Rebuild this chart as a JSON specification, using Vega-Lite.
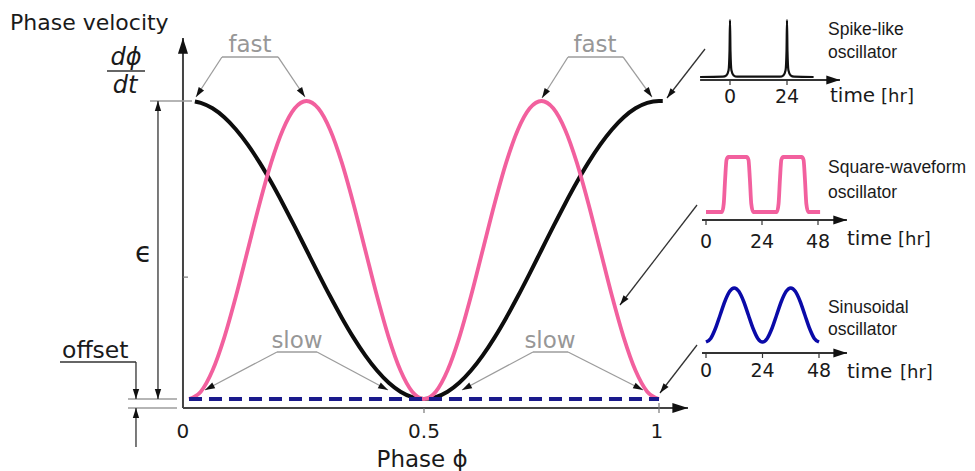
{
  "$schema": "https://vega.github.io/schema/vega-lite/v6.json",
  "width": 975,
  "height": 471,
  "padding": 0,
  "autosize": {"type": "none"},
  "background": "white",
  "config": {"view": {"stroke": null}},
  "datasets": {
    "black": [
      {"x": 0.0125, "y": 0.9985}, {"x": 0.025, "y": 0.9938}, {"x": 0.05, "y": 0.9755}, {"x": 0.075, "y": 0.9455},
      {"x": 0.1, "y": 0.9045}, {"x": 0.125, "y": 0.8536}, {"x": 0.15, "y": 0.7939}, {"x": 0.175, "y": 0.727},
      {"x": 0.2, "y": 0.6545}, {"x": 0.225, "y": 0.5782}, {"x": 0.25, "y": 0.5}, {"x": 0.275, "y": 0.4218},
      {"x": 0.3, "y": 0.3455}, {"x": 0.325, "y": 0.273}, {"x": 0.35, "y": 0.2061}, {"x": 0.375, "y": 0.1464},
      {"x": 0.4, "y": 0.0955}, {"x": 0.425, "y": 0.0545}, {"x": 0.45, "y": 0.0245}, {"x": 0.475, "y": 0.0062},
      {"x": 0.5, "y": 0}, {"x": 0.525, "y": 0.0062}, {"x": 0.55, "y": 0.0245}, {"x": 0.575, "y": 0.0545},
      {"x": 0.6, "y": 0.0955}, {"x": 0.625, "y": 0.1464}, {"x": 0.65, "y": 0.2061}, {"x": 0.675, "y": 0.273},
      {"x": 0.7, "y": 0.3455}, {"x": 0.725, "y": 0.4218}, {"x": 0.75, "y": 0.5}, {"x": 0.775, "y": 0.5782},
      {"x": 0.8, "y": 0.6545}, {"x": 0.825, "y": 0.727}, {"x": 0.85, "y": 0.7939}, {"x": 0.875, "y": 0.8536},
      {"x": 0.9, "y": 0.9045}, {"x": 0.925, "y": 0.9455}, {"x": 0.95, "y": 0.9755}, {"x": 0.975, "y": 0.9938},
      {"x": 1.0, "y": 1.0}, {"x": 1.008, "y": 1.0}
    ],
    "pink": [
      {"x": 0, "y": 0}, {"x": 0.025, "y": 0.0245}, {"x": 0.05, "y": 0.0955}, {"x": 0.075, "y": 0.2061},
      {"x": 0.1, "y": 0.3455}, {"x": 0.125, "y": 0.5}, {"x": 0.15, "y": 0.6545}, {"x": 0.175, "y": 0.7939},
      {"x": 0.2, "y": 0.9045}, {"x": 0.225, "y": 0.9755}, {"x": 0.25, "y": 1}, {"x": 0.275, "y": 0.9755},
      {"x": 0.3, "y": 0.9045}, {"x": 0.325, "y": 0.7939}, {"x": 0.35, "y": 0.6545}, {"x": 0.375, "y": 0.5},
      {"x": 0.4, "y": 0.3455}, {"x": 0.425, "y": 0.2061}, {"x": 0.45, "y": 0.0955}, {"x": 0.475, "y": 0.0245},
      {"x": 0.5, "y": 0}, {"x": 0.525, "y": 0.0245}, {"x": 0.55, "y": 0.0955}, {"x": 0.575, "y": 0.2061},
      {"x": 0.6, "y": 0.3455}, {"x": 0.625, "y": 0.5}, {"x": 0.65, "y": 0.6545}, {"x": 0.675, "y": 0.7939},
      {"x": 0.7, "y": 0.9045}, {"x": 0.725, "y": 0.9755}, {"x": 0.75, "y": 1}, {"x": 0.775, "y": 0.9755},
      {"x": 0.8, "y": 0.9045}, {"x": 0.825, "y": 0.7939}, {"x": 0.85, "y": 0.6545}, {"x": 0.875, "y": 0.5},
      {"x": 0.9, "y": 0.3455}, {"x": 0.925, "y": 0.2061}, {"x": 0.95, "y": 0.0955}, {"x": 0.975, "y": 0.0245},
      {"x": 1.0, "y": 0}
    ],
    "baseline": [{"x": 0, "y": 0}, {"x": 1, "y": 0}],
    "axes": [
      {"x": -0.0128, "y": -0.0302, "x2": -0.0128, "y2": 1.2114},
      {"x": -0.0128, "y": -0.0302, "x2": 1.0617, "y2": -0.0302}
    ],
    "ticks": [
      {"x": 0.5, "y": -0.0302, "x2": 0.5, "y2": -0.047},
      {"x": 1, "y": -0.0134, "x2": 1, "y2": -0.047},
      {"x": -0.0128, "y": 0.409, "x2": -0.0021, "y2": 0.409}
    ],
    "tickLabels": [
      {"x": -0.0128, "y": -0.1309, "text": "0"},
      {"x": 0.5, "y": -0.1309, "text": "0.5"},
      {"x": 0.9957, "y": -0.1309, "text": "1"}
    ],
    "grayLines": [
      {"x": 0.0702, "y": 1.1477, "x2": 0.1894, "y2": 1.1477},
      {"x": 0.8064, "y": 1.1477, "x2": 0.9234, "y2": 1.1477},
      {"x": 0.1872, "y": 0.1577, "x2": 0.2723, "y2": 0.1577},
      {"x": 0.7319, "y": 0.1577, "x2": 0.8064, "y2": 0.1577},
      {"x": -0.083, "y": 1.0, "x2": 0.0064, "y2": 1.0},
      {"x": -0.1298, "y": 0, "x2": -0.0255, "y2": 0},
      {"x": -0.1298, "y": -0.0302, "x2": -0.0255, "y2": -0.0302}
    ],
    "grayArrows": [
      {"x": 0.0702, "y": 1.1477, "x2": 0.0149, "y2": 1.0134},
      {"x": 0.1894, "y": 1.1477, "x2": 0.2468, "y2": 1.0134},
      {"x": 0.8064, "y": 1.1477, "x2": 0.7511, "y2": 1.0101},
      {"x": 0.9234, "y": 1.1477, "x2": 0.9851, "y2": 1.0134},
      {"x": 0.1872, "y": 0.1577, "x2": 0.034, "y2": 0.0302},
      {"x": 0.2723, "y": 0.1577, "x2": 0.4234, "y2": 0.0302},
      {"x": 0.7319, "y": 0.1577, "x2": 0.5809, "y2": 0.0302},
      {"x": 0.8064, "y": 0.1577, "x2": 0.966, "y2": 0.0302}
    ],
    "darkLines": [
      {"x": -0.2745, "y": 0.1242, "x2": -0.1128, "y2": 0.1242},
      {"x": -0.1745, "y": 1.1007, "x2": -0.0936, "y2": 1.1007}
    ],
    "darkArrows": [
      {"x": -0.066, "y": 0.5, "x2": -0.066, "y2": 1.0},
      {"x": -0.066, "y": 0.5, "x2": -0.066, "y2": 0},
      {"x": -0.1128, "y": 0.1242, "x2": -0.1128, "y2": 0},
      {"x": -0.1128, "y": -0.1611, "x2": -0.1128, "y2": -0.0302},
      {"x": 1.0979, "y": 1.1745, "x2": 1.017, "y2": 1.0101},
      {"x": 1.0809, "y": 0.651, "x2": 0.917, "y2": 0.3154},
      {"x": 1.0809, "y": 0.1812, "x2": 1.0021, "y2": 0.0201}
    ],
    "titles": [
      {"x": -0.3809, "y": 1.2383, "text": "Phase velocity"}
    ],
    "offsetLabel": [
      {"x": -0.2702, "y": 0.1376, "text": "offset"}
    ],
    "xTitle": [{"x": 0.496, "y": -0.2282, "text": "Phase ϕ"}],
    "frac": [
      {"x": -0.134, "y": 1.1208, "text": "dϕ"},
      {"x": -0.1362, "y": 1.0268, "text": "dt"}
    ],
    "eps": [{"x": -0.0968, "y": 0.4597, "text": "ϵ"}],
    "speed": [
      {"x": 0.1298, "y": 1.1644, "text": "fast"},
      {"x": 0.8638, "y": 1.1644, "text": "fast"},
      {"x": 0.2298, "y": 0.1711, "text": "slow"},
      {"x": 0.7681, "y": 0.1711, "text": "slow"}
    ]
  },
  "resolve": {"scale": {"x": "independent", "y": "independent"}},
  "layer": [
    {
      "encoding": {
        "x": {"field": "x", "type": "quantitative", "scale": {"domain": [0, 1], "range": [189, 659], "zero": false, "nice": false}, "axis": null},
        "y": {"field": "y", "type": "quantitative", "scale": {"domain": [0, 1], "range": [399, 101], "zero": false, "nice": false}, "axis": null}
      },
      "layer": [
        {"data": {"name": "axes"}, "mark": {"type": "rule", "color": "#444444", "strokeWidth": 2}, "encoding": {"x2": {"field": "x2"}, "y2": {"field": "y2"}}},
        {"data": {"name": "axes"},
         "transform": [{"calculate": "atan2((datum.x2-datum.x)*470,(datum.y2-datum.y)*298)*180/PI", "as": "ang"}],
         "mark": {"type": "point", "shape": "M0,0L-0.45,1.4L0.45,1.4Z", "filled": true, "size": 500, "color": "#111111", "opacity": 1, "strokeWidth": 0},
         "encoding": {"x": {"field": "x2", "type": "quantitative"}, "y": {"field": "y2", "type": "quantitative"}, "angle": {"field": "ang", "type": "quantitative", "scale": null}}},
        {"data": {"name": "ticks"}, "mark": {"type": "rule", "color": "#777777", "strokeWidth": 1.2}, "encoding": {"x2": {"field": "x2"}, "y2": {"field": "y2"}}},
        {"data": {"name": "grayLines"}, "mark": {"type": "rule", "color": "#9c9c9c", "strokeWidth": 1.3}, "encoding": {"x2": {"field": "x2"}, "y2": {"field": "y2"}}},
        {"data": {"name": "grayArrows"}, "mark": {"type": "rule", "color": "#9c9c9c", "strokeWidth": 1.3}, "encoding": {"x2": {"field": "x2"}, "y2": {"field": "y2"}}},
        {"data": {"name": "grayArrows"},
         "transform": [{"calculate": "atan2((datum.x2-datum.x)*470,(datum.y2-datum.y)*298)*180/PI", "as": "ang"}],
         "mark": {"type": "point", "shape": "M0,0L-0.45,1.4L0.45,1.4Z", "filled": true, "size": 200, "color": "#111111", "opacity": 1, "strokeWidth": 0},
         "encoding": {"x": {"field": "x2", "type": "quantitative"}, "y": {"field": "y2", "type": "quantitative"}, "angle": {"field": "ang", "type": "quantitative", "scale": null}}},
        {"data": {"name": "darkLines"}, "mark": {"type": "rule", "color": "#333333", "strokeWidth": 1.5}, "encoding": {"x2": {"field": "x2"}, "y2": {"field": "y2"}}},
        {"data": {"name": "darkArrows"}, "mark": {"type": "rule", "color": "#333333", "strokeWidth": 1.3}, "encoding": {"x2": {"field": "x2"}, "y2": {"field": "y2"}}},
        {"data": {"name": "darkArrows"},
         "transform": [{"calculate": "atan2((datum.x2-datum.x)*470,(datum.y2-datum.y)*298)*180/PI", "as": "ang"}],
         "mark": {"type": "point", "shape": "M0,0L-0.45,1.4L0.45,1.4Z", "filled": true, "size": 200, "color": "#111111", "opacity": 1, "strokeWidth": 0},
         "encoding": {"x": {"field": "x2", "type": "quantitative"}, "y": {"field": "y2", "type": "quantitative"}, "angle": {"field": "ang", "type": "quantitative", "scale": null}}},
        {"data": {"name": "black"}, "mark": {"type": "line", "color": "#0d0d0d", "strokeWidth": 4, "interpolate": "monotone"}, "encoding": {}},
        {"data": {"name": "pink"}, "mark": {"type": "line", "color": "#f2609e", "strokeWidth": 3.8, "interpolate": "monotone"}, "encoding": {}},
        {"data": {"name": "baseline"}, "mark": {"type": "line", "color": "#1a1a8c", "strokeWidth": 3.8, "strokeDash": [13, 7]}, "encoding": {}},
        {"data": {"name": "tickLabels"}, "mark": {"type": "text", "font": "DejaVu Sans", "fontSize": 20, "color": "#1a1a1a", "align": "center", "baseline": "alphabetic"}, "encoding": {"text": {"field": "text", "type": "nominal"}}},
        {"data": {"name": "titles"}, "mark": {"type": "text", "font": "DejaVu Sans", "fontSize": 22, "color": "#1a1a1a", "align": "left", "baseline": "alphabetic"}, "encoding": {"text": {"field": "text", "type": "nominal"}}},
        {"data": {"name": "offsetLabel"}, "mark": {"type": "text", "font": "DejaVu Sans", "fontSize": 23.5, "color": "#1a1a1a", "align": "left", "baseline": "alphabetic"}, "encoding": {"text": {"field": "text", "type": "nominal"}}},
        {"data": {"name": "xTitle"}, "mark": {"type": "text", "font": "DejaVu Sans", "fontSize": 23, "color": "#1a1a1a", "align": "center", "baseline": "alphabetic"}, "encoding": {"text": {"field": "text", "type": "nominal"}}},
        {"data": {"name": "frac"}, "mark": {"type": "text", "font": "DejaVu Sans", "fontStyle": "italic", "fontSize": 24, "color": "#1a1a1a", "align": "center", "baseline": "alphabetic"}, "encoding": {"text": {"field": "text", "type": "nominal"}}},
        {"data": {"name": "eps"}, "mark": {"type": "text", "font": "DejaVu Sans", "fontSize": 28, "color": "#1a1a1a", "align": "center", "baseline": "alphabetic"}, "encoding": {"text": {"field": "text", "type": "nominal"}}},
        {"data": {"name": "speed"}, "mark": {"type": "text", "font": "DejaVu Sans", "fontSize": 23, "color": "#979797", "align": "center", "baseline": "alphabetic"}, "encoding": {"text": {"field": "text", "type": "nominal"}}}
      ]
    },
    {
      "encoding": {
        "x": {"field": "t", "type": "quantitative", "scale": {"domain": [0, 24], "range": [730, 787], "zero": false, "nice": false}, "axis": null},
        "y": {"field": "v", "type": "quantitative", "scale": {"domain": [0, 1], "range": [77, 20], "zero": false, "nice": false}, "axis": null}
      },
      "layer": [
        {"data": {"values": [{"t": -12.6, "v": -0.0526, "t2": 46.3}]}, "mark": {"type": "rule", "color": "#333333", "strokeWidth": 1.8}, "encoding": {"x2": {"field": "t2"}}},
        {"data": {"values": [{"t": -12.6, "v": -0.0526, "t2": 46.3}]}, "mark": {"type": "point", "shape": "M0,0L-0.45,1.4L0.45,1.4Z", "filled": true, "size": 380, "color": "#111111", "opacity": 1, "strokeWidth": 0, "angle": 90}, "encoding": {"x": {"field": "t2", "type": "quantitative"}}},
        {"data": {"values": [{"t": 0, "v": -0.0526, "v2": -0.14}, {"t": 24, "v": -0.0526, "v2": -0.14}]}, "mark": {"type": "rule", "color": "#333333", "strokeWidth": 1.2}, "encoding": {"y2": {"field": "v2"}}},
        {"data": {"values": [
          {"t": -12.6, "v": 0}, {"t": -3, "v": 0.005}, {"t": -1.5, "v": 0.03}, {"t": -0.6, "v": 0.12}, {"t": -0.2, "v": 0.45}, {"t": 0, "v": 1},
          {"t": 0.2, "v": 0.45}, {"t": 0.6, "v": 0.12}, {"t": 1.5, "v": 0.03}, {"t": 3, "v": 0.005}, {"t": 21, "v": 0.005}, {"t": 22.5, "v": 0.03},
          {"t": 23.4, "v": 0.12}, {"t": 23.8, "v": 0.45}, {"t": 24, "v": 1}, {"t": 24.2, "v": 0.45}, {"t": 24.6, "v": 0.12}, {"t": 25.5, "v": 0.03},
          {"t": 27, "v": 0.005}, {"t": 35.2, "v": 0}
        ]}, "mark": {"type": "line", "color": "#111111", "strokeWidth": 2.2, "interpolate": "monotone"}, "encoding": {}},
        {"data": {"values": [{"t": 0, "v": -0.456, "text": "0"}, {"t": 24, "v": -0.456, "text": "24"}]}, "mark": {"type": "text", "font": "DejaVu Sans", "fontSize": 19, "color": "#1a1a1a", "align": "center", "baseline": "alphabetic"}, "encoding": {"text": {"field": "text", "type": "nominal"}}},
        {"data": {"values": [{"t": 42.1, "v": -0.4386, "text": "time"}]}, "mark": {"type": "text", "font": "DejaVu Sans", "fontSize": 20, "color": "#1a1a1a", "align": "left", "baseline": "alphabetic"}, "encoding": {"text": {"field": "text", "type": "nominal"}}},
        {"data": {"values": [{"t": 63.6, "v": -0.4386, "text": "[hr]"}]}, "mark": {"type": "text", "font": "DejaVu Sans", "fontSize": 18, "color": "#1a1a1a", "align": "left", "baseline": "alphabetic"}, "encoding": {"text": {"field": "text", "type": "nominal"}}},
        {"data": {"values": [{"t": 41.26, "v": 0.737, "text": "Spike-like"}, {"t": 41.26, "v": 0.333, "text": "oscillator"}]}, "mark": {"type": "text", "font": "Liberation Sans", "fontSize": 17.5, "color": "#1a1a1a", "align": "left", "baseline": "alphabetic"}, "encoding": {"text": {"field": "text", "type": "nominal"}}}
      ]
    },
    {
      "encoding": {
        "x": {"field": "t", "type": "quantitative", "scale": {"domain": [0, 48], "range": [706, 818], "zero": false, "nice": false}, "axis": null},
        "y": {"field": "v", "type": "quantitative", "scale": {"domain": [0, 1], "range": [212, 157], "zero": false, "nice": false}, "axis": null}
      },
      "layer": [
        {"data": {"values": [{"t": -1.71, "v": -0.1455, "t2": 60.4}]}, "mark": {"type": "rule", "color": "#333333", "strokeWidth": 1.8}, "encoding": {"x2": {"field": "t2"}}},
        {"data": {"values": [{"t": -1.71, "v": -0.1455, "t2": 60.4}]}, "mark": {"type": "point", "shape": "M0,0L-0.45,1.4L0.45,1.4Z", "filled": true, "size": 380, "color": "#111111", "opacity": 1, "strokeWidth": 0, "angle": 90}, "encoding": {"x": {"field": "t2", "type": "quantitative"}}},
        {"data": {"values": [{"t": 0, "v": -0.1455, "v2": -0.2364}, {"t": 24, "v": -0.1455, "v2": -0.2364}, {"t": 48, "v": -0.1455, "v2": -0.2364}]}, "mark": {"type": "rule", "color": "#333333", "strokeWidth": 1.2}, "encoding": {"y2": {"field": "v2"}}},
        {"data": {"values": [
          {"t": 0, "v": 0}, {"t": 6.9, "v": 0}, {"t": 7.6, "v": 0.15}, {"t": 8.2, "v": 0.6}, {"t": 8.8, "v": 0.95}, {"t": 9.6, "v": 1},
          {"t": 17.4, "v": 1}, {"t": 18.2, "v": 0.95}, {"t": 18.8, "v": 0.6}, {"t": 19.4, "v": 0.15}, {"t": 20.2, "v": 0},
          {"t": 30.4, "v": 0}, {"t": 31.1, "v": 0.15}, {"t": 31.7, "v": 0.6}, {"t": 32.3, "v": 0.95}, {"t": 33.1, "v": 1},
          {"t": 41, "v": 1}, {"t": 41.8, "v": 0.95}, {"t": 42.4, "v": 0.6}, {"t": 43, "v": 0.15}, {"t": 43.8, "v": 0}, {"t": 48.9, "v": 0}
        ]}, "mark": {"type": "line", "color": "#f2609e", "strokeWidth": 3.8, "interpolate": "monotone"}, "encoding": {}},
        {"data": {"values": [{"t": 0, "v": -0.6545, "text": "0"}, {"t": 24, "v": -0.6545, "text": "24"}, {"t": 48, "v": -0.6545, "text": "48"}]}, "mark": {"type": "text", "font": "DejaVu Sans", "fontSize": 19, "color": "#1a1a1a", "align": "center", "baseline": "alphabetic"}, "encoding": {"text": {"field": "text", "type": "nominal"}}},
        {"data": {"values": [{"t": 60.4, "v": -0.6, "text": "time"}]}, "mark": {"type": "text", "font": "DejaVu Sans", "fontSize": 20, "color": "#1a1a1a", "align": "left", "baseline": "alphabetic"}, "encoding": {"text": {"field": "text", "type": "nominal"}}},
        {"data": {"values": [{"t": 82.3, "v": -0.6, "text": "[hr]"}]}, "mark": {"type": "text", "font": "DejaVu Sans", "fontSize": 18, "color": "#1a1a1a", "align": "left", "baseline": "alphabetic"}, "encoding": {"text": {"field": "text", "type": "nominal"}}},
        {"data": {"values": [{"t": 52.29, "v": 0.7091, "text": "Square-waveform"}, {"t": 52.29, "v": 0.2545, "text": "oscillator"}]}, "mark": {"type": "text", "font": "Liberation Sans", "fontSize": 17.5, "color": "#1a1a1a", "align": "left", "baseline": "alphabetic"}, "encoding": {"text": {"field": "text", "type": "nominal"}}}
      ]
    },
    {
      "encoding": {
        "x": {"field": "t", "type": "quantitative", "scale": {"domain": [0, 48], "range": [706, 819], "zero": false, "nice": false}, "axis": null},
        "y": {"field": "v", "type": "quantitative", "scale": {"domain": [0, 1], "range": [342, 288], "zero": false, "nice": false}, "axis": null}
      },
      "layer": [
        {"data": {"values": [{"t": -1.7, "v": -0.2037, "t2": 59.9}]}, "mark": {"type": "rule", "color": "#333333", "strokeWidth": 1.8}, "encoding": {"x2": {"field": "t2"}}},
        {"data": {"values": [{"t": -1.7, "v": -0.2037, "t2": 59.9}]}, "mark": {"type": "point", "shape": "M0,0L-0.45,1.4L0.45,1.4Z", "filled": true, "size": 380, "color": "#111111", "opacity": 1, "strokeWidth": 0, "angle": 90}, "encoding": {"x": {"field": "t2", "type": "quantitative"}}},
        {"data": {"values": [{"t": 0, "v": -0.2037, "v2": -0.2963}, {"t": 24, "v": -0.2037, "v2": -0.2963}, {"t": 48, "v": -0.2037, "v2": -0.2963}]}, "mark": {"type": "rule", "color": "#333333", "strokeWidth": 1.2}, "encoding": {"y2": {"field": "v2"}}},
        {"data": {"values": [
          {"t": 0, "v": 0}, {"t": 2, "v": 0.067}, {"t": 4, "v": 0.25}, {"t": 6, "v": 0.5}, {"t": 8, "v": 0.75}, {"t": 10, "v": 0.933}, {"t": 12, "v": 1},
          {"t": 14, "v": 0.933}, {"t": 16, "v": 0.75}, {"t": 18, "v": 0.5}, {"t": 20, "v": 0.25}, {"t": 22, "v": 0.067}, {"t": 24, "v": 0},
          {"t": 26, "v": 0.067}, {"t": 28, "v": 0.25}, {"t": 30, "v": 0.5}, {"t": 32, "v": 0.75}, {"t": 34, "v": 0.933}, {"t": 36, "v": 1},
          {"t": 38, "v": 0.933}, {"t": 40, "v": 0.75}, {"t": 42, "v": 0.5}, {"t": 44, "v": 0.25}, {"t": 46, "v": 0.067}, {"t": 48, "v": 0}
        ]}, "mark": {"type": "line", "color": "#0a0aa8", "strokeWidth": 3.5, "interpolate": "monotone"}, "encoding": {}},
        {"data": {"values": [{"t": 0, "v": -0.648, "text": "0"}, {"t": 24, "v": -0.648, "text": "24"}, {"t": 48, "v": -0.648, "text": "48"}]}, "mark": {"type": "text", "font": "DejaVu Sans", "fontSize": 19, "color": "#1a1a1a", "align": "center", "baseline": "alphabetic"}, "encoding": {"text": {"field": "text", "type": "nominal"}}},
        {"data": {"values": [{"t": 59.9, "v": -0.667, "text": "time"}]}, "mark": {"type": "text", "font": "DejaVu Sans", "fontSize": 20, "color": "#1a1a1a", "align": "left", "baseline": "alphabetic"}, "encoding": {"text": {"field": "text", "type": "nominal"}}},
        {"data": {"values": [{"t": 82.4, "v": -0.667, "text": "[hr]"}]}, "mark": {"type": "text", "font": "DejaVu Sans", "fontSize": 18, "color": "#1a1a1a", "align": "left", "baseline": "alphabetic"}, "encoding": {"text": {"field": "text", "type": "nominal"}}},
        {"data": {"values": [{"t": 51.8, "v": 0.537, "text": "Sinusoidal"}, {"t": 51.8, "v": 0.13, "text": "oscillator"}]}, "mark": {"type": "text", "font": "Liberation Sans", "fontSize": 17.5, "color": "#1a1a1a", "align": "left", "baseline": "alphabetic"}, "encoding": {"text": {"field": "text", "type": "nominal"}}}
      ]
    }
  ]
}
